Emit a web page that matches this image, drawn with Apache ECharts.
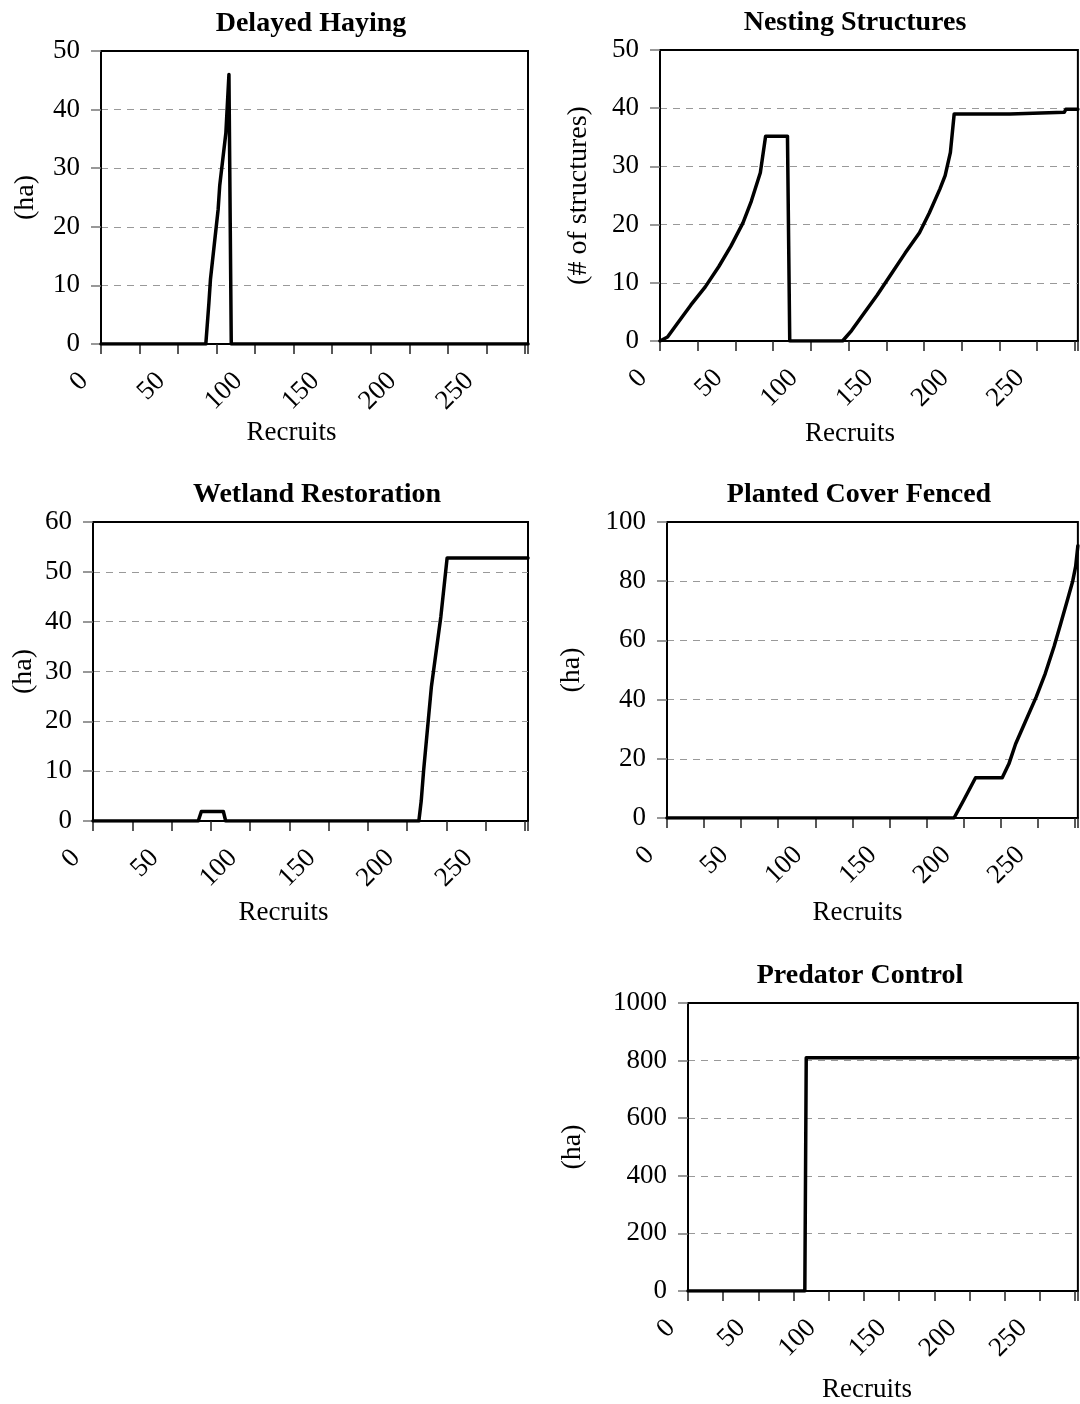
<!DOCTYPE html>
<html>
<head>
<meta charset="utf-8">
<title>Recruits</title>
<script src="https://cdn.jsdelivr.net/npm/echarts@6.0.0/dist/echarts.min.js"></script>
<style>
  html, body { margin: 0; padding: 0; background: #fff; }
  #main { width: 1080px; height: 1404px; }
</style>
</head>
<body>
<div id="main"></div>
<script>
// x axis (recruits)
const xMax = 277;
const xTickStep = 25;
const xLabelStep = 50;

// [recruits, value]
const delayedHaying = [[0, 0], [68, 0], [70, 7], [71, 11], [76, 23], [77, 27], [81, 36], [83, 46], [84.5, 0], [277, 0]];
const nestingStructures = [[0, 0], [5, 0.7], [11.5, 3], [20.5, 6.2], [30, 9.3], [39, 12.8], [47, 16.3], [55, 20.3],
  [60.5, 24], [66.5, 28.9], [70, 35.2], [84.5, 35.2], [86, 0], [121, 0], [127, 1.8], [135, 4.7], [144, 7.9],
  [153.5, 11.6], [162.5, 15.1], [172, 18.6], [178.5, 22], [185.5, 26.1], [189, 28.4], [192.5, 32.4], [195, 39],
  [232, 39], [233, 39.3], [268, 39.3], [269, 39.8], [277, 39.8]];
const wetlandRestoration = [[0, 0], [67, 0], [69, 1.9], [83, 1.9], [84.5, 0], [207.5, 0], [209, 4], [210.5, 10],
  [215.5, 27], [221.5, 41], [225.5, 52.8], [277, 52.8]];
const plantedCoverFenced = [[0, 0], [193.5, 0], [200, 6], [208, 13.6], [226, 13.6], [230.5, 18.3], [235, 25],
  [242, 33], [249, 41], [255, 48.8], [261, 58], [265.5, 65.8], [270, 73.7], [273.5, 80], [275.5, 85], [277, 92]];
const predatorControl = [[0, 0], [83, 0], [84, 810], [277, 810]];

// y axis ranges [max, interval]
const hayingAxis = [50, 10];
const nestingAxis = [50, 10];
const wetlandAxis = [60, 10];
const plantedAxis = [100, 20];
const predatorAxis = [1000, 200];

const FONT = "'Liberation Serif', 'Times New Roman', serif";

const panels = [
  { title: 'Delayed Haying', yName: '(ha)', data: delayedHaying, axis: hayingAxis,
    box: [101, 51, 427, 293], titleX: 306, yGap: 61, xGap: 75, xNameShift: 23 },
  { title: 'Nesting Structures', yName: '(# of structures)', data: nestingStructures, axis: nestingAxis,
    box: [660, 50, 418, 291], titleX: 850, yGap: 67, xGap: 79, xNameShift: 19 },
  { title: 'Wetland Restoration', yName: '(ha)', data: wetlandRestoration, axis: wetlandAxis,
    box: [93, 522, 435, 299], titleX: 312, yGap: 55, xGap: 78, xNameShift: 27 },
  { title: 'Planted Cover Fenced', yName: '(ha)', data: plantedCoverFenced, axis: plantedAxis,
    box: [667, 522, 412, 296], titleX: 854, yGap: 81, xGap: 81, xNameShift: 15 },
  { title: 'Predator Control', yName: '(ha)', data: predatorControl, axis: predatorAxis,
    box: [688, 1003, 393, 292], titleX: 855, yGap: 101, xGap: 85, xNameShift: 16 }
];

const option = {
  animation: false,
  backgroundColor: '#fff',
  title: [], grid: [], xAxis: [], yAxis: [], series: []
};

panels.forEach(function (p, i) {
  option.title.push({
    text: p.title,
    left: p.titleX,
    top: p.box[1] - 46,
    textAlign: 'center',
    textStyle: { fontFamily: FONT, fontSize: 28, fontWeight: 'bold', color: '#000' }
  });
  option.grid.push({
    left: p.box[0], top: p.box[1], width: p.box[2], height: p.box[3],
    show: true, borderColor: '#000', borderWidth: 2, backgroundColor: '#fff'
  });
  option.xAxis.push({
    type: 'value', gridIndex: i, min: 0, max: xMax, interval: xTickStep,
    name: 'Recruits', nameLocation: 'middle', nameGap: p.xGap,
    nameTextStyle: { fontFamily: FONT, fontSize: 27, color: '#000', padding: [0, p.xNameShift * 2, 0, 0] },
    axisLine: { show: true, lineStyle: { color: '#000', width: 2 } },
    axisTick: { show: true, inside: false, length: 10, lineStyle: { color: '#222', width: 1.5 } },
    splitLine: { show: false },
    axisLabel: {
      rotate: 45, margin: 16, padding: [0, 24, 0, 0],
      fontFamily: FONT, fontSize: 27, color: '#000',
      formatter: function (v) { return v % xLabelStep === 0 ? String(v) : ''; }
    }
  });
  option.yAxis.push({
    type: 'value', gridIndex: i, min: 0, max: p.axis[0], interval: p.axis[1],
    name: p.yName, nameLocation: 'middle', nameGap: p.yGap,
    nameTextStyle: { fontFamily: FONT, fontSize: 28, color: '#000' },
    axisLine: { show: true, lineStyle: { color: '#000', width: 2 } },
    axisTick: { show: true, inside: false, length: 10, lineStyle: { color: '#777', width: 1.5 } },
    splitLine: { show: true, showMinLine: false, showMaxLine: false,
      lineStyle: { color: '#999', width: 1, type: [7, 6] } },
    axisLabel: { margin: 21, fontFamily: FONT, fontSize: 27, color: '#000',
      formatter: function (v) { return String(v); } }
  });
  option.series.push({
    type: 'line', xAxisIndex: i, yAxisIndex: i, data: p.data,
    showSymbol: false, symbol: 'none',
    lineStyle: { color: '#000', width: 3.5, join: 'round', cap: 'round' }
  });
});

const chart = echarts.init(document.getElementById('main'), null, { renderer: 'canvas' });
chart.setOption(option);
</script>
</body>
</html>
